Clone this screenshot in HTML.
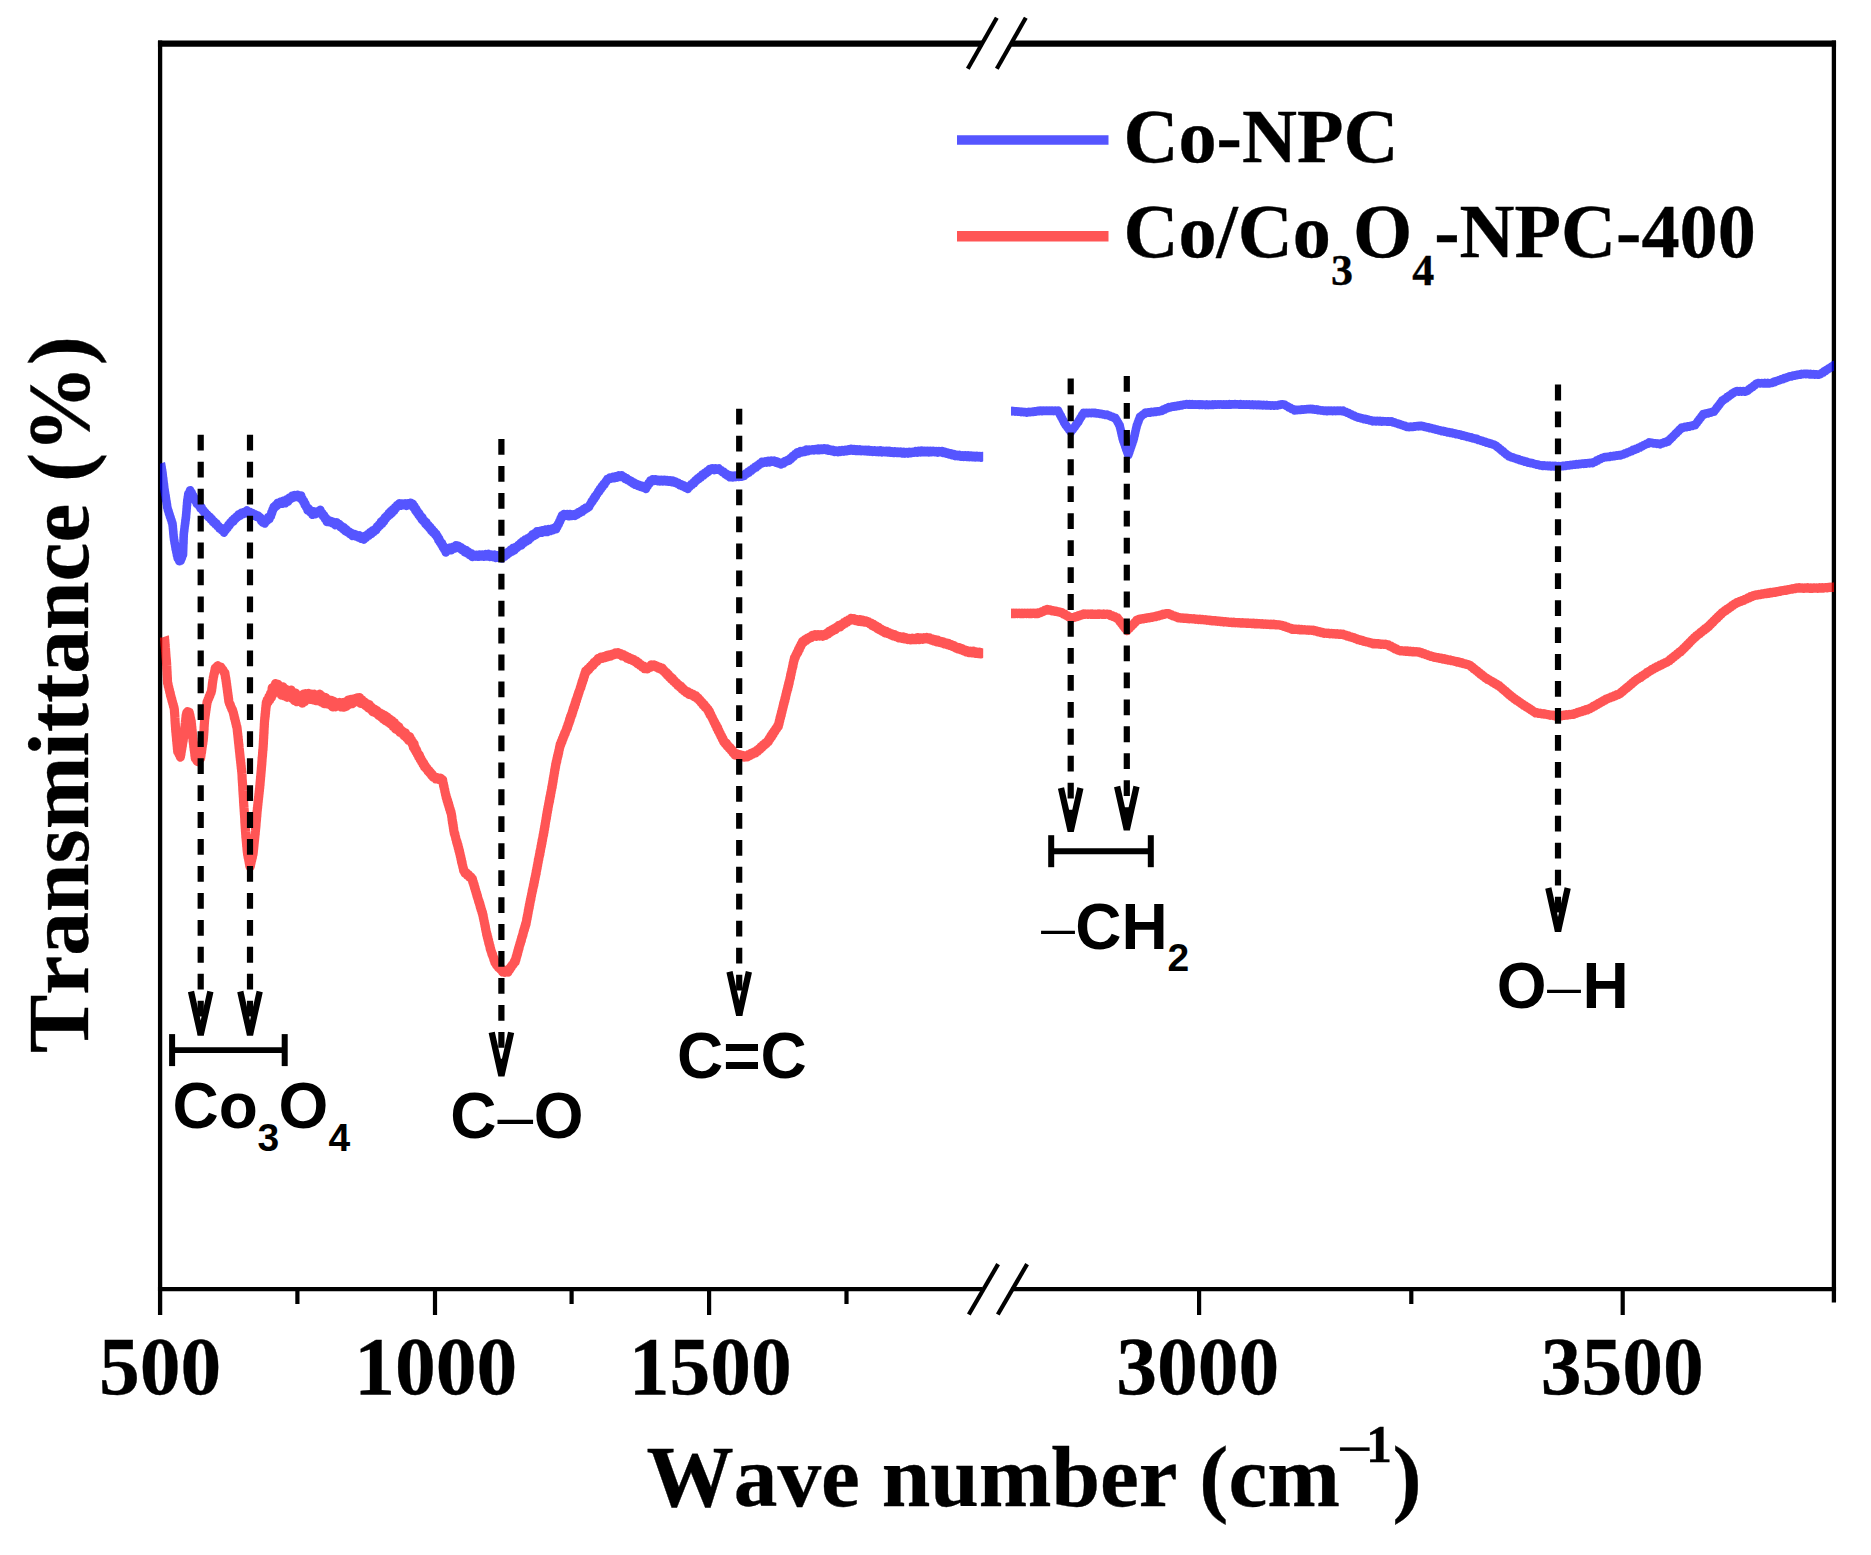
<!DOCTYPE html>
<html lang="en"><head><meta charset="utf-8"><title>FTIR spectra</title>
<style>
html,body{margin:0;padding:0;background:#fff;}
svg{display:block;}
.ser{font-family:"Liberation Serif","Times New Roman",serif;font-weight:bold;fill:#000;stroke:#000;stroke-width:0.35px;}
.san{font-family:"Liberation Sans",Arial,sans-serif;font-weight:bold;fill:#000;}
.thin{font-family:"Liberation Serif",serif;font-weight:normal;}
.nk{font-kerning:none;}
.thinsans{font-family:"Liberation Sans",Arial,sans-serif;font-weight:normal;}
</style></head><body>
<svg width="1871" height="1555" viewBox="0 0 1871 1555">
<rect x="0" y="0" width="1871" height="1555" fill="#fff"/>
<g stroke="#000" fill="none" stroke-linecap="butt">
<line x1="157.95" y1="43.6" x2="982.3" y2="43.6" stroke-width="6.2"/>
<line x1="1011.3" y1="43.6" x2="1836.0500000000002" y2="43.6" stroke-width="6.2"/>
<line x1="157.95" y1="1289.15" x2="982.3" y2="1289.15" stroke-width="4.4"/>
<line x1="1011.3" y1="1289.15" x2="1836.0500000000002" y2="1289.15" stroke-width="4.4"/>
<line x1="160.1" y1="40.5" x2="160.1" y2="1315" stroke-width="4.3"/>
<line x1="1833.9" y1="40.5" x2="1833.9" y2="1302.5" stroke-width="4.3"/>
<line x1="435.0" y1="1289.15" x2="435.0" y2="1315" stroke-width="4.2"/>
<line x1="709.1" y1="1289.15" x2="709.1" y2="1315" stroke-width="4.2"/>
<line x1="1199.1" y1="1289.15" x2="1199.1" y2="1315" stroke-width="4.2"/>
<line x1="1622.7" y1="1289.15" x2="1622.7" y2="1315" stroke-width="4.2"/>
<line x1="297.4" y1="1289.15" x2="297.4" y2="1304" stroke-width="4.2"/>
<line x1="571.6" y1="1289.15" x2="571.6" y2="1304" stroke-width="4.2"/>
<line x1="846.5" y1="1289.15" x2="846.5" y2="1304" stroke-width="4.2"/>
<line x1="1411.3" y1="1289.15" x2="1411.3" y2="1304" stroke-width="4.2"/>
<line x1="967.8" y1="68.8" x2="996.8" y2="17.8" stroke-width="4.2"/>
<line x1="996.8" y1="68.8" x2="1025.8" y2="17.8" stroke-width="4.2"/>
<line x1="968.8" y1="1314.45" x2="998.0999999999999" y2="1264.15" stroke-width="4.2"/>
<line x1="997.8" y1="1314.45" x2="1027.1" y2="1264.15" stroke-width="4.2"/>
</g>
<defs><clipPath id="cl"><rect x="160" y="43" width="823.2" height="1246"/></clipPath><clipPath id="cr"><rect x="1011" y="43" width="823" height="1246"/></clipPath></defs>
<g clip-path="url(#cl)">
<polyline points="160.9,463.4 161.1,464.0 161.4,466.3 161.6,466.9 161.8,469.3 162.1,469.9 162.3,472.0 162.5,472.5 162.7,474.9 162.8,475.5 163.0,477.9 163.2,478.2 163.4,480.7 163.5,481.0 163.7,483.4 163.9,483.9 164.1,486.2 164.2,486.5 164.4,489.0 164.6,489.4 164.9,492.0 165.1,492.6 165.3,495.0 165.6,495.4 165.8,497.8 166.0,498.5 166.3,501.0 166.5,501.3 166.8,504.1 167.0,504.5 167.2,507.4 167.5,507.8 168.0,510.5 168.5,510.9 169.0,513.6 169.5,513.9 170.0,516.8 170.5,517.2 171.0,519.5 171.5,520.2 172.0,522.9 172.5,523.1 172.6,525.6 172.8,526.0 172.9,528.4 173.0,528.8 173.2,531.2 173.3,531.5 173.4,534.2 173.5,534.2 173.7,537.0 173.8,537.0 174.1,540.1 174.3,540.1 174.6,543.1 174.9,543.6 175.2,546.3 175.4,546.3 175.7,549.5 176.0,549.6 176.4,552.5 176.7,552.9 177.0,555.7 177.4,555.8 177.7,558.5 178.5,558.7 179.3,561.2 180.1,560.6 180.7,560.6 181.3,557.9 181.8,557.9 182.4,555.4 183.0,555.1 183.1,552.2 183.1,552.4 183.2,549.6 183.2,549.3 183.3,546.6 183.3,546.3 183.4,543.4 183.5,543.4 183.5,540.1 183.6,540.3 183.6,537.1 183.7,537.2 183.7,534.6 183.8,534.3 184.0,531.8 184.2,531.4 184.4,528.8 184.5,528.8 184.7,526.1 184.9,525.7 185.1,523.0 185.3,523.1 185.4,520.1 185.6,520.6 185.8,517.6 186.0,517.6 186.1,514.7 186.2,514.7 186.4,511.6 186.5,511.6 186.6,508.6 186.7,508.8 186.8,505.6 187.0,505.5 187.1,502.5 187.2,502.4 187.4,499.6 187.6,499.7 187.9,496.4 188.1,496.3 188.3,493.5 189.2,493.2 190.1,490.2 190.9,492.8 191.7,492.8 192.5,495.9 193.2,495.8 193.9,498.5 194.7,498.1 195.4,501.1 196.1,500.8 196.8,503.8 197.7,502.9 198.7,505.6 199.6,505.7 200.5,508.4 201.5,507.3 202.4,510.4 203.3,510.0 204.3,512.9 205.2,512.3 206.3,515.0 207.4,514.6 208.6,517.3 209.7,516.6 210.8,519.5 211.9,519.0 213.0,522.0 214.1,521.4 215.2,524.1 216.3,523.2 217.4,526.2 218.5,525.8 219.6,528.7 220.7,527.7 221.8,530.2 222.9,529.6 224.0,532.6 224.9,529.6 225.8,530.0 226.7,527.1 227.6,528.0 228.5,524.6 229.4,525.6 230.3,522.5 231.3,523.1 232.4,520.1 233.4,521.5 234.4,518.2 235.5,519.0 236.5,516.5 237.6,517.2 238.6,514.4 240.0,515.9 241.4,512.7 242.8,514.1 244.2,511.9 245.6,513.4 247.0,510.3 248.3,513.4 249.7,511.8 251.0,514.1 252.4,513.0 253.7,515.8 255.1,514.3 256.6,516.9 258.1,515.6 259.5,518.3 260.3,517.4 261.2,521.1 262.0,520.0 262.9,522.7 263.7,521.7 264.8,523.5 265.9,519.4 267.0,520.9 268.2,517.2 269.3,519.1 270.4,515.6 270.9,516.4 271.5,512.1 272.0,513.4 272.6,509.5 273.1,510.1 273.7,506.7 274.7,507.6 275.7,505.0 276.7,506.0 277.7,502.8 278.7,504.3 280.4,501.7 282.0,503.8 283.7,500.6 285.4,503.3 286.7,499.2 288.1,501.5 289.4,497.7 290.8,498.9 292.1,495.7 293.4,497.6 294.7,495.1 296.0,497.0 297.7,494.8 299.4,497.8 301.1,495.5 301.8,499.8 302.5,498.7 303.3,502.1 304.0,500.9 304.7,505.0 305.4,503.6 306.2,507.5 306.9,506.8 307.6,510.4 308.8,508.6 310.0,512.1 311.2,510.7 312.4,514.8 314.0,511.3 315.6,514.1 317.2,511.4 318.8,513.2 320.4,509.9 321.3,513.6 322.2,513.0 323.1,516.3 324.1,515.3 325.0,519.0 325.9,517.9 326.8,521.9 328.2,520.1 329.6,522.2 331.0,521.0 332.5,523.3 333.9,522.1 335.3,525.1 336.7,522.3 338.1,525.2 339.3,524.0 340.4,527.2 341.6,526.0 342.8,529.0 344.0,527.4 345.1,530.9 346.3,529.4 347.5,532.3 348.7,531.2 349.8,534.0 351.0,532.7 352.4,535.9 353.8,533.8 355.3,536.2 356.7,534.9 358.1,537.4 359.5,535.4 361.0,538.7 362.4,536.5 363.8,539.6 365.1,535.9 366.3,537.5 367.6,534.3 368.8,535.7 370.1,532.2 371.3,533.9 372.6,530.4 373.8,532.1 375.1,529.0 376.1,530.2 377.1,526.4 378.1,527.5 379.0,524.4 380.0,525.6 381.0,521.8 382.0,523.9 383.0,520.0 384.0,521.6 384.9,517.4 385.9,518.8 386.9,515.5 387.9,516.5 388.9,513.0 390.0,514.9 391.0,510.9 392.0,513.0 393.0,509.1 394.1,510.9 395.1,507.1 396.1,508.2 397.1,505.0 398.2,506.1 399.2,503.4 400.6,505.8 402.1,503.5 403.5,505.2 404.9,503.4 406.4,505.9 407.8,503.4 409.2,505.1 410.7,502.7 412.1,505.2 412.9,503.9 413.7,508.0 414.5,506.2 415.3,510.6 416.1,508.7 416.9,512.7 417.7,511.6 418.5,515.0 419.3,513.4 420.1,517.2 420.9,516.1 421.7,519.6 422.5,517.6 423.3,521.2 424.3,520.4 425.3,523.9 426.3,522.2 427.3,525.9 428.3,525.0 429.3,528.1 430.2,526.9 431.2,530.8 432.2,529.3 433.2,532.7 434.2,531.5 435.2,534.9 436.2,533.7 436.9,537.0 437.7,536.1 438.4,540.3 439.2,538.7 439.9,542.5 440.6,541.4 441.4,544.9 442.1,543.3 442.8,547.4 443.6,546.0 444.3,549.7 445.1,548.3 445.8,552.5 447.2,549.4 448.7,550.6 450.1,547.6 451.6,550.1 453.1,546.7 454.5,548.5 455.9,545.3 457.4,547.0 458.6,545.9 459.9,548.6 461.1,547.2 462.4,550.3 463.6,549.1 464.9,552.3 466.1,550.0 467.3,553.5 468.6,551.8 469.8,555.2 471.1,553.2 472.3,556.9 473.8,554.6 475.2,556.6 476.7,554.8 478.2,556.8 479.7,554.5 481.1,556.5 482.6,554.5 484.1,556.7 485.6,554.1 487.0,556.5 488.5,553.9 490.0,557.0 491.5,554.6 493.0,557.2 494.5,554.6 496.0,557.9 497.5,555.2 499.0,557.8 500.5,555.3 502.0,558.5 503.2,554.9 504.5,556.7 505.7,552.7 507.0,554.8 508.2,551.8 509.5,552.9 510.7,549.6 512.0,551.7 513.2,547.8 514.5,550.2 515.7,546.8 517.0,547.9 518.2,545.1 519.4,546.2 520.6,543.0 521.7,545.1 522.9,541.1 524.1,542.9 525.3,539.5 526.5,541.3 527.7,538.2 528.8,540.0 530.0,536.8 531.2,537.7 532.4,534.4 533.6,536.2 534.7,533.2 535.9,534.8 537.1,531.2 538.6,533.1 540.0,530.9 541.5,532.8 542.9,530.2 544.4,532.0 545.8,529.5 547.3,532.0 548.7,529.1 550.2,531.0 551.6,528.8 553.1,530.1 554.5,527.7 556.0,529.3 556.7,525.9 557.3,527.2 558.0,523.9 558.7,524.5 559.4,521.0 560.0,521.7 560.7,518.0 561.4,518.6 562.0,515.4 562.7,516.2 564.2,514.0 565.8,515.8 567.3,514.0 568.8,516.3 570.3,514.1 571.9,516.0 573.4,514.5 574.9,515.9 576.1,513.7 577.4,514.5 578.6,512.0 579.8,512.9 581.0,510.9 582.3,511.5 583.5,509.1 584.7,509.8 585.9,507.5 587.2,508.5 588.4,506.5 589.2,506.7 590.1,504.0 590.9,503.9 591.7,501.2 592.5,501.5 593.4,498.7 594.2,499.1 595.0,496.3 595.9,496.4 596.7,494.0 597.5,493.7 598.3,491.2 599.2,491.6 600.0,488.8 600.9,489.1 601.8,486.4 602.7,486.5 603.6,484.0 604.5,484.4 605.4,481.8 606.3,481.7 607.2,479.2 608.1,479.5 609.6,477.7 611.1,478.6 612.6,477.0 614.1,478.1 615.6,476.2 617.1,477.4 618.6,475.6 620.1,476.7 621.6,475.3 622.8,477.1 624.1,476.9 625.3,479.0 626.5,478.0 627.7,480.1 629.0,479.8 630.2,481.7 631.4,480.9 632.6,483.4 633.9,482.4 635.1,484.8 636.5,484.0 637.8,485.7 639.1,484.9 640.5,486.7 641.9,485.7 643.2,487.6 644.5,486.9 645.9,488.9 646.8,486.2 647.7,486.2 648.6,483.0 649.5,483.6 650.4,480.6 651.3,480.7 652.7,479.2 654.2,480.9 655.6,479.2 657.1,481.1 658.5,479.8 659.9,481.4 661.4,479.8 662.8,481.4 664.3,479.9 665.7,481.3 667.1,480.1 668.6,481.8 670.0,480.4 671.5,481.9 672.9,480.6 674.3,482.5 675.6,481.8 677.0,483.6 678.3,483.0 679.7,485.2 681.0,484.3 682.4,486.3 683.7,485.2 685.1,487.7 686.4,486.9 687.8,488.9 688.9,486.2 690.0,486.5 691.1,484.4 692.2,484.7 693.3,482.6 694.4,482.9 695.5,480.2 696.6,480.8 697.7,478.2 698.8,479.0 699.9,476.7 701.1,477.2 702.3,474.6 703.5,475.5 704.7,472.8 706.0,473.6 707.2,471.2 708.4,471.8 709.6,469.0 710.8,470.0 712.4,468.4 714.0,470.0 715.7,468.4 717.3,469.6 718.9,468.6 720.1,470.4 721.3,470.2 722.5,472.2 723.7,471.8 724.9,474.2 726.1,473.4 727.3,475.7 728.5,475.0 729.7,477.3 731.2,475.9 732.7,477.4 734.2,475.8 735.7,476.9 737.2,475.3 738.7,477.0 740.2,475.4 741.7,476.6 743.2,475.2 744.4,475.8 745.6,473.6 746.7,473.8 747.9,472.0 749.1,472.6 750.3,470.3 751.5,470.7 752.7,468.6 753.8,468.9 755.0,466.9 756.2,467.3 757.4,465.2 758.6,465.4 759.7,463.6 760.9,463.8 762.1,461.7 763.6,462.7 765.2,461.5 766.7,462.5 768.3,460.9 769.8,462.2 771.4,460.7 772.9,461.7 774.2,460.8 775.6,462.4 777.0,461.4 778.3,463.4 779.6,462.7 781.0,464.4 782.4,462.5 783.7,463.2 785.0,461.1 786.4,461.6 787.8,459.9 789.1,460.6 790.3,458.1 791.4,458.6 792.6,456.1 793.7,456.8 794.9,454.2 796.0,454.5 797.2,452.3 798.7,453.4 800.3,451.3 801.8,452.4 803.4,450.9 804.9,451.8 806.5,449.6 808.0,451.0 809.5,449.6 810.9,450.4 812.4,449.3 813.9,450.3 815.4,449.1 816.8,450.0 818.3,448.6 819.8,450.2 821.3,448.6 822.7,450.0 824.2,448.2 825.7,450.1 827.2,448.5 828.7,450.8 830.2,449.6 831.7,451.0 833.2,449.9 834.7,452.0 836.2,450.8 837.7,452.2 839.2,450.5 840.7,451.7 842.2,450.3 843.7,451.4 845.2,449.7 846.7,451.3 848.2,449.6 849.7,450.8 851.2,448.8 852.7,450.7 854.1,449.1 855.6,450.9 857.0,449.4 858.5,450.8 859.9,449.6 861.4,451.2 862.8,449.7 864.3,451.1 865.7,450.0 867.2,451.5 868.6,449.9 870.1,451.6 871.6,450.2 873.0,451.7 874.5,450.5 876.0,451.9 877.5,450.7 878.9,451.9 880.4,450.4 881.9,452.2 883.4,451.0 884.8,452.1 886.3,450.7 887.7,452.5 889.2,450.8 890.6,452.8 892.1,451.2 893.5,453.0 894.9,451.3 896.4,452.8 897.8,451.6 899.3,452.9 900.7,451.8 902.1,453.5 903.6,452.1 905.0,453.5 906.5,452.3 907.9,453.4 909.4,451.9 911.0,453.1 912.5,451.9 914.1,452.7 915.6,451.2 917.2,452.6 918.7,451.1 920.1,452.2 921.6,450.6 923.0,452.2 924.5,450.8 925.9,452.3 927.4,450.7 928.8,452.4 930.3,450.7 931.7,452.3 933.2,451.0 934.6,452.1 936.1,451.1 937.5,452.5 939.0,451.1 940.4,452.1 941.9,451.0 943.3,452.9 944.8,451.7 946.3,453.6 947.8,452.7 949.2,454.4 950.7,453.2 952.2,455.3 953.7,454.1 955.1,456.1 956.6,454.7 958.0,456.3 959.5,455.0 960.9,456.5 962.4,455.4 963.8,456.9 965.3,455.3 966.7,457.0 968.1,455.6 969.6,457.0 971.0,455.6 972.5,457.3 973.9,456.0 975.3,457.2 976.8,455.9 978.2,457.2 979.7,456.0 981.1,457.7 982.6,456.2 984.0,457.0" fill="none" stroke="#0000ff" opacity="0.667" stroke-width="8.6" stroke-linejoin="round" stroke-linecap="butt"/>
<polyline points="164.3,636.7 164.5,637.3 164.6,639.6 164.8,640.1 164.9,642.4 165.0,643.0 165.1,645.1 165.2,646.0 165.4,648.2 165.5,648.8 165.6,651.1 165.7,651.8 165.8,653.9 165.9,654.7 166.0,656.8 166.1,657.5 166.3,659.5 166.4,660.4 166.5,662.5 166.6,663.1 166.7,665.5 166.8,666.3 166.8,668.5 166.9,669.3 167.0,671.4 167.1,672.2 167.1,674.2 167.2,675.0 167.3,677.2 167.4,678.2 167.4,680.4 167.5,681.0 167.6,683.2 168.0,683.9 168.3,686.3 168.7,687.0 169.1,689.2 169.4,689.9 169.8,692.3 170.2,692.9 170.5,695.4 170.9,696.1 171.3,698.1 171.7,698.9 172.0,700.8 172.4,701.7 172.8,703.7 173.2,704.3 173.5,706.3 173.9,707.1 174.3,709.2 174.4,710.0 174.5,712.2 174.6,712.8 174.7,714.9 174.8,715.6 174.9,717.8 175.0,718.6 175.0,720.7 175.1,721.4 175.2,723.5 175.3,724.0 175.4,726.1 175.5,726.8 175.6,729.0 175.7,729.7 175.8,731.7 176.0,732.7 176.1,734.6 176.2,735.3 176.4,737.4 176.5,738.1 176.6,740.5 176.8,740.9 176.9,743.1 177.0,743.9 177.2,746.0 177.3,746.6 177.4,748.7 177.6,749.5 177.7,751.7 178.4,752.2 179.1,754.3 179.7,754.9 180.4,757.1 180.6,755.1 180.9,754.4 181.1,752.1 181.3,751.5 181.6,749.4 181.8,748.8 182.0,746.7 182.3,746.0 182.5,744.0 182.7,743.1 183.0,741.2 183.2,740.5 183.4,738.2 183.7,737.6 183.9,735.7 184.1,735.0 184.2,732.7 184.4,732.0 184.5,729.9 184.7,729.2 184.9,726.9 185.0,726.3 185.2,724.1 185.3,723.3 185.5,721.2 185.7,720.4 185.8,718.4 186.0,717.8 186.1,715.7 186.3,714.9 186.9,712.4 187.6,711.7 189.2,712.1 189.5,714.2 189.9,715.1 190.2,717.2 190.5,718.0 190.9,720.2 191.2,721.1 191.3,723.4 191.5,723.9 191.6,726.3 191.8,727.0 191.9,729.2 192.1,729.9 192.2,732.1 192.4,733.0 192.5,735.1 192.7,736.0 192.8,738.1 193.0,738.7 193.1,741.2 193.3,741.7 193.5,743.9 193.7,744.7 193.8,746.7 194.0,747.6 194.2,749.8 194.4,750.3 194.6,752.6 194.8,753.2 194.9,755.6 195.1,756.1 195.3,758.4 196.1,758.9 197.0,761.0 197.8,761.6 198.7,761.0 199.7,759.0 200.6,758.4 200.8,756.1 201.0,755.4 201.2,753.1 201.5,752.5 201.7,750.2 201.9,749.4 202.1,747.3 202.3,746.5 202.5,744.3 202.8,743.6 203.0,741.3 203.2,740.7 203.4,738.4 203.5,737.7 203.6,735.6 203.7,735.0 203.8,732.7 203.9,732.0 204.0,729.9 204.1,729.4 204.1,727.1 204.2,726.6 204.3,724.2 204.4,723.6 204.5,721.5 204.6,720.7 204.7,718.5 204.9,718.1 205.1,715.8 205.3,715.2 205.5,713.0 205.7,712.4 205.9,710.3 206.1,709.6 206.3,707.4 206.5,706.8 206.7,704.7 206.9,704.0 207.1,701.8 207.6,701.3 208.2,699.1 208.7,698.4 209.2,696.6 209.8,695.9 210.3,693.8 210.9,693.1 211.4,691.1 211.6,690.5 211.8,688.5 212.0,687.7 212.2,685.7 212.3,684.8 212.5,682.9 212.7,682.1 212.9,680.1 213.1,679.3 213.4,677.3 213.7,676.3 214.0,674.1 214.4,673.3 214.7,671.0 215.0,670.2 215.3,667.9 216.5,667.4 217.7,665.7 219.3,667.1 221.0,667.2 222.0,669.2 222.9,669.9 223.9,672.1 224.9,673.0 225.1,675.0 225.3,675.7 225.5,677.7 225.8,678.4 226.0,680.5 226.2,681.0 226.4,683.4 226.6,684.0 226.8,686.3 227.0,686.9 227.2,689.1 227.4,690.0 227.6,692.2 227.8,692.9 228.0,695.2 228.2,695.7 228.4,698.1 228.6,698.8 228.8,701.1 229.0,701.9 229.6,703.7 230.2,704.5 230.8,706.7 231.3,707.4 231.9,709.4 232.5,709.9 233.1,712.1 233.4,712.8 233.8,714.8 234.1,715.6 234.4,717.8 234.8,718.3 235.1,720.5 235.4,720.9 235.8,723.1 236.1,723.8 236.4,726.0 236.8,726.5 237.1,728.5 237.2,729.3 237.4,731.5 237.5,732.1 237.7,734.2 237.8,734.9 238.0,736.9 238.1,737.7 238.3,739.9 238.4,740.6 238.6,742.8 238.7,743.3 238.9,745.4 239.0,746.2 239.2,748.3 239.3,748.9 239.5,751.3 239.6,751.9 239.8,753.9 239.9,754.8 240.1,757.0 240.2,757.6 240.4,759.7 240.6,760.3 240.7,762.5 240.9,763.1 241.0,765.4 241.2,766.1 241.3,768.2 241.5,768.9 241.6,771.0 241.8,771.7 241.9,773.7 242.0,774.5 242.1,776.6 242.1,777.4 242.2,779.6 242.3,780.2 242.4,782.2 242.5,783.1 242.6,785.2 242.7,785.8 242.8,788.2 242.8,788.8 242.9,790.8 243.0,791.6 243.1,793.8 243.2,794.5 243.3,796.7 243.4,797.3 243.5,799.5 243.5,800.1 243.6,802.4 243.7,803.1 243.8,805.4 243.9,806.1 244.0,808.1 244.1,808.8 244.2,811.0 244.3,811.7 244.4,814.0 244.5,814.7 244.6,816.8 244.7,817.5 244.8,819.9 244.8,820.6 244.9,822.7 245.0,823.4 245.1,825.6 245.2,826.4 245.3,828.4 245.4,829.2 245.5,831.5 245.6,832.3 245.7,834.2 245.8,834.9 245.9,837.3 246.1,837.9 246.2,840.0 246.3,840.8 246.5,843.2 246.6,843.7 246.7,846.1 246.9,846.9 247.0,849.1 247.1,849.8 247.3,851.9 247.4,852.5 247.7,854.8 247.9,855.5 248.2,857.5 248.5,858.1 248.8,860.3 249.0,861.0 249.3,863.1 249.6,863.9 249.8,866.0 250.1,866.8 250.4,865.9 250.7,863.9 251.0,863.0 251.3,861.2 251.6,860.4 252.0,858.2 252.3,857.7 252.6,855.5 252.9,854.7 253.2,852.7 253.3,851.9 253.5,849.7 253.6,849.1 253.8,846.8 253.9,845.9 254.1,843.7 254.2,842.9 254.4,840.8 254.5,840.1 254.7,837.8 254.8,837.2 255.0,834.9 255.2,834.1 255.3,832.0 255.4,831.2 255.6,829.0 255.7,828.3 255.9,826.2 256.0,825.2 256.1,823.1 256.2,822.4 256.4,820.2 256.5,819.4 256.6,817.1 256.8,816.2 256.9,814.1 257.0,813.2 257.1,811.2 257.3,810.4 257.4,808.2 257.6,807.6 257.7,805.4 257.9,804.6 258.0,802.5 258.2,801.8 258.3,799.7 258.5,799.0 258.6,797.1 258.8,796.4 258.9,794.2 259.1,793.5 259.2,791.5 259.4,790.9 259.5,788.6 259.7,788.1 259.8,785.8 260.0,785.0 260.1,782.8 260.2,781.9 260.4,779.8 260.5,779.0 260.6,776.8 260.8,775.9 260.9,773.8 261.0,773.1 261.2,770.7 261.3,770.0 261.4,767.8 261.5,767.1 261.7,764.8 261.8,764.1 261.9,761.8 262.0,761.2 262.1,758.9 262.2,758.1 262.4,756.0 262.5,755.3 262.6,753.0 262.7,752.7 262.8,749.7 263.0,749.8 263.1,747.0 263.2,746.8 263.3,743.5 263.4,744.1 263.4,740.9 263.5,741.3 263.6,738.2 263.7,738.2 263.7,735.3 263.8,735.6 263.9,732.2 264.0,733.3 264.0,729.6 264.1,730.0 264.2,726.6 264.3,727.1 264.3,723.7 264.4,724.4 264.5,720.6 264.6,721.4 264.8,717.1 264.9,718.9 265.1,714.0 265.2,716.5 265.4,711.3 265.5,713.5 265.7,707.9 265.8,710.2 266.0,705.3 266.1,707.6 266.3,702.3 266.4,705.5 267.2,699.9 268.1,702.3 268.9,696.8 269.8,700.0 270.6,693.3 271.4,697.3 272.2,687.8 273.0,694.1 273.9,686.5 274.7,691.4 275.5,683.6 276.7,691.5 277.9,684.3 279.0,691.9 280.2,687.5 281.4,695.1 282.8,686.9 284.2,695.8 285.6,689.0 287.1,697.3 288.5,690.8 289.9,695.6 291.0,690.0 292.1,698.3 293.3,693.7 294.4,700.5 295.5,693.0 296.9,701.7 298.3,695.5 299.7,701.4 301.1,697.1 302.3,703.1 303.5,694.2 304.6,701.5 305.8,693.7 307.0,697.9 308.5,693.3 310.0,699.3 311.5,694.2 313.0,699.8 314.4,694.1 315.8,700.7 317.1,695.8 318.5,700.8 319.9,694.2 321.3,702.1 322.7,696.5 324.2,703.7 325.6,697.5 327.0,703.8 328.4,699.5 329.9,704.6 331.3,700.4 332.7,707.0 334.1,701.4 335.5,706.8 336.9,702.6 338.2,705.8 339.6,702.4 341.0,707.0 342.4,702.7 343.8,707.2 345.2,702.1 346.7,706.2 348.1,700.2 349.6,704.1 351.0,699.4 352.5,703.7 354.0,698.9 355.4,701.7 356.9,697.9 358.4,700.8 359.6,697.5 360.8,703.5 362.0,699.9 363.3,704.0 364.5,701.9 365.7,705.8 366.9,703.5 368.1,707.8 369.3,704.5 370.6,709.4 371.8,707.2 373.0,711.9 374.4,709.1 375.7,713.0 377.1,710.6 378.4,715.2 379.8,712.8 381.0,717.1 382.2,714.1 383.4,719.2 384.7,715.3 385.9,721.0 387.1,716.8 388.3,722.4 389.5,718.8 390.8,724.1 392.0,720.7 393.3,726.7 394.5,722.7 395.6,728.9 396.7,725.1 397.8,730.1 398.9,726.9 400.0,732.3 401.1,729.9 402.2,733.7 403.3,731.7 404.3,735.9 405.4,732.8 406.5,737.8 407.6,735.6 408.6,740.4 409.7,736.7 410.8,741.1 411.5,739.8 412.1,743.9 412.8,742.0 413.4,747.5 414.1,743.9 414.7,749.6 415.4,747.6 416.0,751.9 416.7,750.1 417.3,754.2 418.0,753.3 418.7,757.0 419.4,755.0 420.2,759.5 420.9,758.4 421.6,761.7 422.3,760.9 423.0,764.2 423.8,763.3 424.5,766.8 425.2,765.7 426.1,768.4 427.0,768.3 427.9,771.1 428.8,770.3 429.7,773.0 430.6,772.5 431.5,775.3 432.4,774.4 433.3,777.3 434.2,776.5 435.8,778.8 437.4,777.8 439.1,779.7 440.7,778.3 442.3,779.9 442.6,779.8 443.0,782.9 443.3,783.0 443.6,786.1 443.9,785.7 444.3,789.0 444.6,789.1 444.9,791.8 445.2,792.0 445.6,795.0 445.9,794.9 446.3,797.9 446.7,797.7 447.1,800.5 447.6,800.5 448.0,803.6 448.4,802.9 448.8,806.3 449.2,805.8 449.6,808.8 450.1,808.9 450.5,811.8 450.9,811.4 451.3,814.1 451.5,814.4 451.7,816.9 451.9,816.8 452.1,820.2 452.3,819.9 452.5,822.9 452.8,822.6 453.0,825.6 453.2,825.0 453.4,828.3 453.6,827.9 453.8,830.9 454.0,831.1 454.4,833.8 454.8,833.6 455.2,836.4 455.5,836.5 455.9,839.4 456.3,839.6 456.7,842.2 457.1,842.2 457.5,845.1 457.9,844.8 458.2,847.9 458.6,847.5 459.0,851.0 459.4,850.3 459.7,853.7 460.0,853.3 460.4,856.5 460.7,856.1 461.0,859.2 461.3,859.0 461.6,862.2 462.0,861.9 462.3,864.8 462.6,865.0 462.9,867.5 463.3,867.7 463.6,870.6 463.9,870.2 465.1,873.2 466.2,872.6 467.4,875.3 468.5,874.7 469.7,877.3 470.8,876.8 472.0,879.4 472.4,878.9 472.8,882.2 473.2,881.5 473.7,884.8 474.1,884.3 474.5,887.6 474.9,887.2 475.3,890.1 475.7,890.1 476.2,893.3 476.6,893.0 477.0,896.1 477.4,895.6 477.8,898.5 478.2,898.7 478.6,901.3 479.1,901.3 479.5,904.2 479.9,903.7 480.3,907.1 480.7,906.6 481.1,909.6 481.6,909.7 482.0,912.5 482.4,912.2 482.8,915.3 483.1,915.1 483.4,918.2 483.6,918.0 483.9,920.6 484.2,920.7 484.5,923.6 484.7,923.1 485.0,926.1 485.3,926.1 485.6,929.3 485.8,929.1 486.1,931.6 486.4,931.7 486.7,934.9 487.1,934.2 487.4,937.6 487.8,937.3 488.1,940.2 488.5,940.0 488.8,943.2 489.2,942.9 489.5,945.6 489.9,945.5 490.2,948.8 490.6,948.5 490.9,951.0 491.4,951.3 491.9,954.1 492.4,953.8 492.9,956.7 493.4,956.9 493.9,959.8 494.4,959.4 494.9,962.6 495.4,962.2 496.4,964.8 497.4,964.6 498.4,967.5 499.4,966.5 500.5,969.4 501.5,968.8 502.5,971.9 503.5,971.0 505.0,972.4 506.5,970.6 508.0,972.2 508.9,969.2 509.8,969.3 510.7,966.9 511.6,966.8 512.5,964.5 513.4,964.4 514.3,961.7 515.2,961.9 515.6,959.0 516.0,959.5 516.3,956.3 516.7,956.9 517.1,953.6 517.5,954.3 517.8,950.8 518.2,951.4 518.6,948.1 519.0,948.4 519.3,945.9 519.7,945.6 520.1,943.1 520.5,943.1 520.9,940.3 521.3,940.6 521.7,937.4 522.1,937.5 522.5,934.9 522.9,935.1 523.2,932.2 523.6,932.2 524.0,929.4 524.4,929.6 524.8,926.6 525.2,927.0 525.6,923.8 526.0,924.6 526.3,921.6 526.5,921.7 526.8,918.4 527.1,918.6 527.3,916.0 527.6,916.0 527.9,913.1 528.1,913.4 528.4,910.0 528.6,910.4 528.9,907.6 529.2,907.7 529.4,904.6 529.7,905.1 530.0,901.9 530.2,902.1 530.5,899.3 530.8,899.6 531.1,896.3 531.4,896.2 531.7,893.5 532.0,893.4 532.3,890.5 532.6,890.5 532.9,887.8 533.2,887.6 533.5,884.8 533.8,885.3 534.1,881.9 534.4,882.0 534.7,878.8 535.0,879.0 535.3,876.3 535.5,876.6 535.8,873.8 536.1,873.9 536.3,870.8 536.6,870.6 536.9,868.1 537.1,868.2 537.4,865.3 537.6,865.4 537.9,862.7 538.2,862.5 538.4,859.4 538.7,859.9 539.0,857.0 539.2,856.9 539.5,854.3 539.8,854.7 540.0,851.3 540.3,851.7 540.6,849.0 540.8,848.9 541.1,845.8 541.4,846.1 541.6,843.1 541.9,843.7 542.1,840.3 542.4,840.7 542.7,838.0 542.9,837.6 543.2,834.8 543.5,835.1 543.7,832.0 544.0,832.6 544.2,829.1 544.5,829.4 544.7,826.2 545.0,826.8 545.2,823.4 545.4,823.5 545.7,820.6 545.9,820.8 546.2,817.6 546.4,818.3 546.6,815.1 546.9,815.1 547.1,812.2 547.4,812.2 547.6,809.3 547.9,809.5 548.1,806.7 548.4,806.5 548.7,803.7 548.9,803.7 549.2,801.0 549.5,801.4 549.7,798.0 550.0,798.2 550.2,795.7 550.5,795.9 550.8,792.4 551.0,793.0 551.3,790.2 551.6,790.0 551.8,786.9 552.1,787.7 552.3,784.6 552.6,784.3 552.8,781.5 553.1,781.5 553.3,778.4 553.5,778.7 553.8,775.6 554.0,775.7 554.3,772.8 554.5,773.3 554.7,769.8 555.0,769.9 555.2,767.3 555.5,767.3 555.7,764.3 556.0,764.3 556.3,761.4 556.7,761.6 557.0,758.3 557.3,758.6 557.6,755.7 558.0,755.8 558.3,752.9 558.6,753.2 558.9,750.3 559.2,750.2 559.6,747.1 559.9,747.1 560.2,744.2 560.8,744.6 561.3,741.6 561.9,741.9 562.4,738.7 563.0,738.8 563.5,736.1 564.1,736.0 564.6,733.4 565.2,733.4 565.7,730.8 566.3,730.6 566.8,727.8 567.4,728.1 567.9,724.8 568.3,725.2 568.8,722.3 569.2,722.7 569.6,719.4 570.1,720.2 570.5,716.7 571.0,717.1 571.4,714.5 571.9,714.8 572.3,711.8 572.8,711.8 573.2,708.7 573.7,709.1 574.1,706.2 574.6,706.6 575.0,703.5 575.5,703.7 575.9,700.5 576.4,700.7 576.8,698.1 577.2,698.2 577.7,695.3 578.1,695.4 578.6,692.6 579.0,692.6 579.5,690.1 579.9,690.0 580.4,687.4 580.8,687.7 581.3,684.6 581.7,684.6 582.1,681.6 582.6,682.1 583.0,679.2 583.5,679.5 583.9,676.2 584.4,676.5 584.8,673.5 585.3,673.7 585.7,671.0 586.7,671.7 587.8,668.9 588.8,669.6 589.9,666.9 590.9,667.1 591.9,664.9 593.0,665.4 594.0,662.6 595.0,662.9 596.1,660.8 597.1,661.3 598.2,658.4 599.2,659.2 600.7,657.3 602.1,658.3 603.6,656.5 605.0,657.6 606.5,655.4 607.9,656.8 609.4,654.9 610.8,656.2 612.3,654.2 613.7,654.9 615.2,653.1 616.6,654.1 618.1,652.7 619.4,654.6 620.7,653.5 622.0,656.0 623.3,654.6 624.6,656.7 625.9,655.9 627.3,658.4 628.6,657.4 629.9,659.5 631.2,658.5 632.5,660.4 633.8,659.8 635.1,661.9 636.3,661.0 637.5,663.7 638.7,662.8 639.9,665.1 641.1,664.8 642.3,667.0 643.5,666.1 644.7,668.7 645.9,668.5 647.3,668.9 648.6,666.9 650.0,667.4 651.3,664.9 652.7,665.9 654.0,665.0 655.4,666.7 656.7,665.9 658.1,668.2 659.4,667.1 660.8,669.3 662.1,668.0 663.1,670.6 664.2,670.4 665.2,672.9 666.3,672.3 667.3,675.2 668.3,674.4 669.4,677.2 670.4,676.6 671.4,679.3 672.5,678.4 673.5,681.1 674.6,680.9 675.6,683.2 676.7,682.7 677.8,685.4 678.8,684.7 679.9,687.2 681.0,686.4 682.1,689.3 683.2,688.6 684.2,691.1 685.3,690.4 686.4,692.6 687.8,691.8 689.1,694.4 690.5,693.2 691.8,695.2 693.1,694.3 694.5,696.8 695.9,695.8 697.2,698.3 698.2,697.9 699.2,700.4 700.1,700.0 701.1,702.4 702.1,702.4 703.1,705.0 704.1,704.4 705.1,707.3 706.0,706.8 707.0,709.2 708.0,709.0 708.7,712.0 709.4,711.3 710.0,714.7 710.7,714.2 711.4,716.9 712.1,717.0 712.8,719.7 713.5,719.9 714.2,722.6 714.8,722.4 715.5,725.0 716.2,725.0 716.9,728.2 717.6,727.4 718.2,730.6 718.9,730.6 719.6,733.5 720.2,733.3 720.9,736.1 721.6,736.1 722.3,739.0 722.9,738.5 723.6,741.4 724.3,741.3 725.3,743.9 726.3,743.1 727.2,746.1 728.2,745.8 729.2,748.3 730.2,747.5 731.2,750.4 732.2,749.9 733.1,753.0 734.1,752.3 735.1,755.1 736.6,753.7 738.2,755.5 739.7,754.7 741.3,756.7 742.8,755.3 744.4,757.2 745.9,755.7 747.2,757.0 748.6,754.7 750.0,755.4 751.3,753.2 752.6,754.1 754.0,752.0 755.4,753.0 756.7,750.5 757.8,751.0 758.9,748.9 759.9,749.5 761.0,746.7 762.1,747.3 763.2,744.7 764.3,745.4 765.3,743.3 766.4,743.5 767.5,741.2 768.3,741.6 769.2,738.5 770.0,738.9 770.8,736.1 771.7,736.3 772.5,733.7 773.3,733.9 774.1,731.3 775.0,731.3 775.8,728.6 776.6,728.9 777.5,726.1 778.3,726.5 778.7,723.5 779.0,723.8 779.4,720.7 779.7,721.0 780.1,717.5 780.5,717.8 780.8,715.0 781.2,715.3 781.5,712.2 781.9,712.1 782.3,709.1 782.6,709.5 783.0,706.4 783.3,706.4 783.7,703.1 784.1,703.6 784.4,700.7 784.8,700.8 785.1,697.7 785.5,697.9 785.9,694.6 786.2,694.8 786.6,691.6 786.9,692.0 787.3,689.0 787.7,689.2 788.0,686.0 788.4,686.3 788.7,683.1 789.1,683.5 789.4,680.5 789.7,680.4 790.1,677.7 790.4,677.8 790.7,674.4 791.0,674.9 791.3,672.0 791.6,671.9 792.0,668.9 792.3,668.8 792.6,666.2 792.9,666.4 793.2,662.9 793.5,663.1 793.9,660.1 794.2,660.5 794.5,657.5 795.2,657.7 795.9,654.9 796.5,654.8 797.2,652.3 797.9,652.3 798.5,649.3 799.2,649.7 799.9,646.6 800.6,646.8 801.2,644.0 801.9,644.3 802.6,641.3 803.8,642.1 805.0,639.6 806.2,640.5 807.4,638.1 808.6,638.8 809.8,636.9 811.0,637.8 812.2,635.5 813.4,635.8 814.9,634.8 816.5,636.3 818.0,634.7 819.6,636.1 821.1,634.5 822.7,636.3 824.2,634.5 825.4,635.4 826.7,633.3 827.9,634.1 829.1,631.4 830.3,632.5 831.6,629.9 832.8,631.0 834.0,628.5 835.2,629.7 836.5,627.1 837.7,627.7 838.9,625.4 840.2,626.8 841.4,624.4 842.6,624.8 843.8,622.8 845.1,623.3 846.3,621.3 847.5,621.9 848.7,619.9 850.0,620.3 851.2,618.3 852.7,620.0 854.1,618.7 855.6,620.6 857.1,619.5 858.6,621.4 860.0,619.5 861.5,621.7 863.0,620.4 864.5,622.0 865.9,620.8 867.4,622.5 868.6,622.0 869.9,624.0 871.1,623.0 872.4,625.6 873.6,624.4 874.9,627.0 876.1,625.9 877.4,628.6 878.6,627.3 879.9,630.0 881.1,629.0 882.4,631.4 883.6,630.3 885.0,632.8 886.3,631.4 887.6,633.6 889.0,632.7 890.4,634.6 891.7,633.8 893.1,635.9 894.4,634.6 895.8,636.7 897.1,635.8 898.6,637.9 900.1,636.5 901.6,638.1 903.1,636.9 904.6,638.8 906.1,637.8 907.6,639.4 909.1,638.5 910.6,639.9 912.1,638.4 913.5,639.6 915.0,638.4 916.5,639.7 918.0,637.6 919.4,639.6 920.9,637.8 922.4,639.4 923.9,637.7 925.3,638.7 926.8,637.5 928.2,638.9 929.5,637.9 930.9,640.1 932.2,638.8 933.6,640.9 934.9,639.5 936.3,641.8 937.7,640.2 939.0,642.3 940.4,641.3 941.7,643.0 943.1,641.9 944.4,644.0 945.8,642.8 947.1,644.6 948.5,643.4 949.8,645.5 951.2,644.6 952.5,646.6 953.9,645.5 955.2,647.8 956.6,646.9 957.9,648.9 959.3,647.7 960.6,649.7 962.0,648.5 963.4,650.9 964.7,649.8 966.0,651.9 967.4,650.9 968.9,652.5 970.4,651.3 971.9,653.0 973.4,651.2 974.9,653.3 976.5,652.1 978.0,653.6 979.5,652.2 981.0,654.0 982.5,652.8 984.0,653.6" fill="none" stroke="#ff0000" opacity="0.667" stroke-width="9.2" stroke-linejoin="round" stroke-linecap="butt"/>
</g>
<g clip-path="url(#cr)">
<polyline points="1009.0,411.0 1010.5,410.7 1012.0,411.4 1013.5,411.0 1015.0,411.6 1016.5,411.2 1018.0,411.8 1019.5,411.5 1021.0,412.1 1022.5,411.7 1024.0,412.3 1025.5,412.1 1027.0,412.6 1028.5,411.9 1030.0,412.3 1031.5,411.7 1033.0,412.0 1034.5,411.2 1036.0,411.6 1037.5,410.9 1039.0,411.2 1040.5,410.6 1042.0,411.1 1043.4,410.6 1044.9,411.0 1046.4,410.6 1047.8,411.0 1049.3,410.6 1050.8,411.0 1052.2,410.5 1053.7,411.1 1055.2,410.5 1056.6,411.1 1058.1,410.5 1058.8,412.3 1059.4,413.2 1060.1,415.0 1060.8,415.6 1061.4,417.6 1062.1,418.2 1062.8,420.0 1063.5,420.9 1064.1,422.6 1064.8,423.5 1065.7,425.2 1066.5,425.8 1067.4,427.5 1068.2,428.1 1069.1,429.8 1069.9,430.3 1070.8,432.0 1071.8,430.3 1072.7,429.6 1073.7,427.8 1074.6,427.1 1075.6,425.3 1076.5,424.4 1077.5,422.7 1078.3,422.1 1079.0,420.3 1079.8,419.4 1080.5,417.8 1081.3,417.1 1082.1,415.2 1082.8,414.4 1083.6,412.8 1085.1,413.2 1086.6,412.8 1088.1,413.3 1089.5,412.8 1091.0,413.2 1092.5,412.7 1094.0,413.1 1095.4,412.8 1096.9,413.5 1098.3,413.3 1099.7,414.0 1101.2,413.8 1102.6,414.4 1104.0,414.2 1105.5,415.0 1106.9,414.6 1108.3,415.6 1109.7,415.6 1111.2,416.7 1112.6,416.8 1114.0,417.9 1115.4,417.8 1116.1,419.5 1116.8,420.3 1117.6,422.0 1118.3,422.9 1119.0,424.7 1119.7,425.4 1120.0,427.2 1120.3,428.2 1120.7,429.9 1121.0,430.9 1121.3,432.8 1121.6,433.7 1121.9,435.6 1122.3,436.5 1122.6,438.5 1122.9,439.2 1123.4,441.2 1123.9,442.0 1124.4,443.9 1124.9,444.9 1125.4,446.9 1125.8,447.6 1126.3,449.6 1126.8,450.6 1127.3,452.5 1127.8,453.3 1128.3,455.2 1128.8,453.3 1129.3,452.5 1129.7,450.5 1130.2,449.6 1130.7,447.8 1131.2,446.7 1131.7,444.8 1132.2,443.9 1132.6,442.0 1133.1,441.1 1133.6,439.2 1133.9,438.4 1134.2,436.5 1134.6,435.5 1134.9,433.6 1135.2,432.7 1135.5,431.0 1135.8,430.0 1136.2,428.1 1136.5,427.3 1136.8,425.4 1137.3,424.5 1137.9,422.5 1138.4,421.5 1138.9,419.7 1139.5,418.7 1140.0,416.8 1141.3,416.1 1142.7,414.7 1144.1,414.1 1145.4,412.6 1146.9,412.9 1148.4,412.2 1149.9,412.7 1151.4,411.9 1152.8,412.3 1154.3,411.6 1155.8,411.9 1157.3,411.4 1158.8,411.5 1160.3,410.9 1161.7,410.9 1163.2,409.6 1164.6,409.5 1166.0,408.4 1167.5,408.3 1168.9,407.1 1170.4,407.4 1171.8,406.5 1173.3,406.8 1174.7,406.1 1176.2,406.4 1177.7,405.5 1179.1,405.9 1180.6,405.0 1182.0,405.4 1183.5,404.5 1184.9,404.8 1186.4,404.0 1187.9,404.7 1189.3,404.1 1190.8,404.7 1192.2,404.1 1193.7,404.8 1195.1,404.3 1196.6,404.8 1198.0,404.4 1199.5,404.9 1200.9,404.4 1202.4,404.9 1203.8,404.5 1205.3,405.1 1206.7,404.4 1208.1,405.1 1209.5,404.5 1211.0,405.0 1212.4,404.4 1213.8,404.9 1215.2,404.3 1216.6,404.8 1218.0,404.3 1219.4,404.7 1220.9,404.3 1222.3,404.8 1223.7,404.3 1225.1,404.8 1226.5,404.2 1227.9,404.7 1229.3,404.1 1230.8,404.6 1232.2,404.2 1233.6,404.5 1235.0,404.0 1236.4,404.5 1237.9,404.2 1239.3,404.7 1240.8,404.1 1242.2,404.7 1243.6,404.2 1245.1,404.8 1246.5,404.3 1248.0,404.8 1249.4,404.4 1250.8,405.0 1252.3,404.4 1253.7,405.1 1255.2,404.5 1256.6,405.1 1258.1,404.6 1259.5,405.1 1261.0,404.7 1262.4,405.4 1263.9,404.8 1265.3,405.5 1266.8,404.9 1268.2,405.5 1269.7,405.2 1271.1,405.7 1272.6,405.3 1274.0,405.7 1275.5,405.4 1277.1,405.6 1278.7,404.8 1280.4,405.0 1282.0,404.2 1283.6,404.6 1284.9,404.8 1286.3,405.9 1287.7,406.3 1289.0,407.6 1290.3,407.8 1291.7,409.0 1293.1,409.2 1294.4,410.4 1295.9,409.8 1297.3,410.1 1298.8,409.7 1300.3,410.0 1301.8,409.4 1303.2,409.8 1304.7,409.2 1306.2,409.4 1307.7,409.0 1309.1,409.3 1310.6,408.7 1312.1,409.4 1313.6,409.0 1315.1,409.8 1316.6,409.4 1318.1,410.2 1319.6,410.0 1321.1,410.6 1322.6,410.4 1324.1,411.0 1325.6,410.6 1327.0,411.1 1328.5,410.6 1329.9,411.0 1331.4,410.6 1332.9,411.1 1334.3,410.5 1335.8,411.1 1337.3,410.5 1338.7,411.0 1340.2,410.5 1341.6,411.1 1343.1,410.6 1344.4,411.8 1345.8,411.7 1347.1,412.8 1348.5,413.0 1349.8,414.2 1351.2,414.2 1352.5,415.4 1353.9,415.5 1355.2,416.7 1356.6,416.7 1358.1,417.7 1359.5,417.5 1361.0,418.4 1362.5,418.3 1364.0,419.1 1365.4,418.9 1366.9,419.8 1368.4,419.6 1369.9,420.5 1371.3,420.3 1372.8,421.3 1374.3,420.7 1375.7,421.4 1377.2,420.8 1378.6,421.4 1380.1,420.9 1381.5,421.6 1383.0,421.1 1384.4,421.5 1385.9,421.2 1387.3,421.7 1388.8,421.2 1390.2,421.8 1391.7,421.4 1393.0,422.4 1394.4,422.3 1395.8,423.3 1397.1,423.2 1398.5,424.1 1399.8,424.0 1401.2,424.9 1402.5,425.0 1403.9,425.9 1405.2,425.8 1406.6,426.9 1407.9,426.7 1409.4,427.2 1410.9,426.5 1412.4,427.0 1413.9,426.3 1415.4,426.6 1416.9,426.0 1418.4,426.4 1419.9,425.7 1421.4,426.2 1422.9,426.0 1424.3,426.9 1425.8,426.7 1427.2,427.5 1428.7,427.4 1430.1,428.3 1431.6,428.0 1433.0,428.9 1434.5,428.8 1435.9,429.8 1437.4,429.5 1438.8,430.4 1440.3,430.3 1441.8,431.1 1443.2,430.9 1444.7,431.7 1446.1,431.6 1447.6,432.4 1449.0,432.1 1450.5,432.9 1451.9,432.6 1453.4,433.5 1454.8,433.3 1456.3,434.2 1457.7,434.0 1459.2,434.8 1460.6,434.6 1461.9,435.6 1463.3,435.2 1464.7,436.2 1466.0,436.1 1467.4,436.9 1468.8,436.8 1470.2,437.7 1471.5,437.4 1472.9,438.4 1474.3,438.3 1475.6,439.0 1477.0,438.9 1478.4,440.0 1479.8,440.0 1481.2,440.9 1482.6,440.9 1484.0,441.7 1485.4,441.8 1486.9,442.8 1488.3,442.7 1489.7,443.6 1491.1,443.6 1492.5,444.5 1493.9,444.5 1495.3,445.5 1496.4,446.0 1497.5,447.3 1498.7,447.8 1499.8,449.2 1500.9,449.6 1502.0,451.0 1503.2,451.4 1504.3,452.8 1505.4,453.3 1506.5,454.6 1507.7,455.0 1508.8,456.5 1510.1,456.4 1511.5,457.4 1512.8,457.3 1514.2,458.3 1515.5,458.2 1516.9,459.2 1518.2,459.0 1519.6,460.1 1521.0,460.0 1522.3,460.9 1523.7,460.8 1525.0,461.8 1526.5,461.6 1527.9,462.7 1529.4,462.5 1530.9,463.3 1532.4,463.1 1533.8,464.0 1535.3,464.0 1536.8,464.8 1538.3,464.6 1539.7,465.5 1541.2,465.4 1542.7,465.9 1544.1,465.4 1545.6,465.9 1547.0,465.6 1548.5,466.2 1549.9,465.6 1551.4,466.4 1552.8,465.9 1554.3,466.4 1555.7,465.9 1557.2,466.5 1558.6,466.0 1560.1,466.6 1561.6,466.0 1563.0,466.2 1564.5,465.7 1566.0,465.9 1567.5,465.2 1568.9,465.5 1570.4,464.9 1571.9,465.1 1573.4,464.5 1574.8,464.8 1576.3,464.0 1577.8,464.5 1579.2,463.9 1580.7,464.1 1582.2,463.5 1583.7,463.9 1585.1,463.2 1586.6,463.6 1588.1,463.0 1589.6,463.4 1591.0,462.8 1592.5,463.2 1593.8,462.1 1595.2,461.8 1596.5,460.6 1597.9,460.4 1599.2,459.3 1600.6,459.1 1602.0,457.9 1603.3,457.7 1604.8,457.1 1606.2,457.3 1607.7,456.7 1609.1,457.0 1610.6,456.1 1612.0,456.5 1613.5,455.7 1614.9,456.1 1616.4,455.4 1617.8,455.7 1619.3,455.0 1620.7,455.4 1622.2,454.5 1623.5,454.4 1624.9,453.3 1626.2,453.4 1627.6,452.2 1629.0,452.3 1630.3,451.2 1631.7,451.2 1633.0,449.9 1634.4,450.0 1635.7,448.8 1637.1,448.9 1638.4,447.8 1639.8,447.6 1641.1,446.5 1642.5,446.2 1643.8,445.1 1645.2,444.8 1646.5,443.7 1647.9,443.6 1649.2,442.3 1650.7,443.0 1652.3,442.7 1653.8,443.5 1655.4,443.2 1656.9,443.9 1658.5,443.5 1660.0,444.3 1661.3,443.3 1662.7,443.4 1664.0,442.4 1665.4,442.5 1666.8,441.4 1668.1,441.6 1669.1,440.1 1670.2,439.5 1671.2,437.9 1672.3,437.4 1673.3,435.9 1674.3,435.2 1675.4,433.8 1676.4,433.2 1677.4,431.8 1678.5,431.1 1679.5,429.5 1680.6,429.1 1681.6,427.5 1683.1,427.8 1684.6,426.9 1686.1,427.2 1687.6,426.3 1689.1,426.6 1690.6,425.8 1692.1,426.0 1693.6,425.1 1695.1,425.3 1696.0,423.6 1696.9,422.9 1697.8,421.3 1698.7,420.5 1699.6,418.8 1700.5,418.2 1701.4,416.5 1702.3,415.8 1703.2,414.1 1704.7,414.2 1706.3,413.3 1707.8,413.4 1709.4,412.5 1710.9,412.7 1712.5,411.7 1714.0,411.8 1714.9,410.1 1715.8,409.4 1716.7,407.8 1717.6,407.0 1718.6,405.4 1719.5,404.6 1720.4,402.9 1721.3,402.2 1722.2,400.5 1723.4,400.2 1724.7,398.9 1725.9,398.6 1727.1,397.0 1728.3,396.7 1729.6,395.3 1730.8,395.0 1732.0,393.6 1733.2,393.4 1734.5,392.0 1735.7,391.6 1737.2,391.0 1738.8,391.6 1740.3,391.1 1741.9,391.6 1743.4,391.0 1745.0,391.6 1746.5,391.1 1747.7,390.7 1748.9,389.3 1750.1,388.8 1751.3,387.5 1752.5,387.1 1753.7,385.7 1754.9,385.2 1756.1,383.8 1757.3,383.4 1758.8,383.0 1760.3,383.5 1761.8,383.0 1763.3,383.5 1764.8,382.9 1766.3,383.5 1767.8,382.9 1769.3,383.5 1770.8,383.0 1772.1,382.9 1773.5,381.9 1774.8,382.1 1776.2,381.0 1777.5,381.0 1778.9,380.1 1780.2,380.1 1781.6,379.1 1783.0,379.2 1784.3,378.1 1785.7,378.2 1787.0,377.3 1788.4,377.2 1789.7,376.2 1791.2,376.5 1792.7,375.6 1794.2,375.8 1795.7,375.1 1797.2,375.2 1798.7,374.5 1800.2,374.7 1801.7,373.9 1803.2,374.1 1804.7,373.7 1806.1,374.1 1807.6,373.7 1809.1,374.4 1810.6,373.9 1812.0,374.5 1813.5,374.1 1815.0,374.6 1816.5,374.2 1817.9,374.8 1819.4,374.3 1820.6,374.0 1821.8,372.9 1823.0,372.6 1824.1,371.3 1825.3,371.1 1826.5,369.9 1827.7,369.5 1828.9,368.3 1830.1,368.1 1831.3,366.8 1832.4,366.6 1833.6,365.2 1834.8,365.0 1836.0,364.0" fill="none" stroke="#0000ff" opacity="0.667" stroke-width="8.6" stroke-linejoin="round" stroke-linecap="butt"/>
<polyline points="1009.0,613.6 1010.4,613.1 1011.9,613.7 1013.3,613.1 1014.8,613.6 1016.2,613.2 1017.6,613.6 1019.1,613.2 1020.5,613.7 1022.0,613.2 1023.4,613.7 1024.8,613.2 1026.3,613.6 1027.7,613.2 1029.2,613.7 1030.6,613.1 1032.0,613.6 1033.5,613.2 1034.9,613.6 1036.4,613.1 1037.8,613.7 1039.2,612.5 1040.5,612.6 1041.9,611.5 1043.2,611.6 1044.6,610.4 1045.9,610.3 1047.3,609.3 1048.8,610.2 1050.3,609.9 1051.8,610.8 1053.3,610.6 1054.8,611.3 1056.3,611.2 1057.8,611.9 1059.3,611.8 1060.8,612.6 1062.1,612.7 1063.5,614.1 1064.8,614.2 1066.2,615.5 1067.5,615.7 1068.9,616.9 1070.2,617.2 1071.6,618.4 1072.9,617.6 1074.3,617.5 1075.6,616.6 1077.0,616.6 1078.3,615.7 1079.7,615.8 1081.0,614.9 1082.4,614.8 1083.7,613.9 1085.1,614.4 1086.6,614.0 1088.0,614.4 1089.4,614.0 1090.8,614.4 1092.3,613.9 1093.7,614.5 1095.1,614.0 1096.6,614.5 1098.0,613.9 1099.4,614.4 1100.9,614.0 1102.3,614.5 1103.7,613.9 1105.1,614.5 1106.6,614.0 1108.0,614.4 1109.4,614.4 1110.7,615.7 1112.1,615.6 1113.4,616.7 1114.8,616.7 1116.1,617.9 1117.5,617.9 1118.4,619.5 1119.2,620.1 1120.1,621.8 1121.0,622.3 1121.8,623.9 1122.7,624.6 1123.5,626.2 1124.4,626.8 1125.3,628.4 1126.1,629.0 1127.0,630.6 1128.1,629.1 1129.2,628.4 1130.2,626.9 1131.3,626.3 1132.4,624.8 1133.5,624.1 1134.6,622.6 1135.6,622.0 1136.7,620.4 1137.8,619.8 1139.3,619.1 1140.7,619.3 1142.2,618.7 1143.7,618.8 1145.2,618.0 1146.6,618.3 1148.1,617.7 1149.6,617.8 1151.1,617.1 1152.5,617.3 1154.0,616.7 1155.5,616.7 1157.0,615.8 1158.5,615.9 1160.0,615.1 1161.5,615.2 1163.0,614.2 1164.5,614.4 1166.0,613.5 1167.5,613.7 1168.8,613.7 1170.2,614.6 1171.5,614.8 1172.9,615.9 1174.2,615.8 1175.6,616.8 1177.0,616.9 1178.3,618.0 1179.7,617.6 1181.2,618.2 1182.6,617.8 1184.0,618.4 1185.4,618.0 1186.9,618.6 1188.3,618.3 1189.7,618.8 1191.2,618.5 1192.6,619.0 1194.0,618.6 1195.5,619.3 1196.9,619.0 1198.3,619.6 1199.7,619.2 1201.2,619.7 1202.6,619.3 1204.0,620.0 1205.4,619.7 1206.9,620.3 1208.3,620.0 1209.7,620.6 1211.1,620.3 1212.5,620.9 1214.0,620.5 1215.4,621.1 1216.8,620.8 1218.2,621.3 1219.7,621.1 1221.1,621.7 1222.5,621.3 1223.9,622.1 1225.3,621.5 1226.8,622.2 1228.2,621.9 1229.6,622.5 1231.0,622.1 1232.4,622.7 1233.9,622.2 1235.3,622.8 1236.7,622.5 1238.1,622.9 1239.5,622.6 1241.0,623.2 1242.4,622.7 1243.8,623.2 1245.2,622.8 1246.7,623.3 1248.1,622.9 1249.5,623.5 1250.9,623.0 1252.3,623.7 1253.8,623.1 1255.2,623.8 1256.6,623.3 1258.0,623.9 1259.5,623.5 1260.9,624.1 1262.3,623.6 1263.7,624.3 1265.2,623.9 1266.6,624.4 1268.0,624.0 1269.5,624.7 1270.9,624.2 1272.3,624.7 1273.8,624.2 1275.2,624.9 1276.6,624.6 1278.0,625.0 1279.5,624.8 1280.9,625.3 1282.2,625.3 1283.6,626.3 1285.0,626.2 1286.3,627.3 1287.7,627.2 1289.0,628.2 1290.4,628.2 1291.7,629.3 1293.1,628.8 1294.6,629.4 1296.0,629.0 1297.5,629.6 1298.9,629.2 1300.3,629.9 1301.8,629.4 1303.2,630.0 1304.7,629.5 1306.1,630.2 1307.5,629.9 1309.0,630.3 1310.4,630.0 1311.9,630.5 1313.3,630.1 1314.8,631.0 1316.4,630.9 1317.9,631.9 1319.5,631.7 1321.0,632.7 1322.6,632.4 1324.1,633.4 1325.6,633.0 1327.0,633.5 1328.5,633.1 1329.9,633.8 1331.4,633.4 1332.9,633.9 1334.3,633.6 1335.8,634.1 1337.3,633.7 1338.7,634.3 1340.2,633.9 1341.6,634.5 1343.1,634.2 1344.4,635.1 1345.8,635.1 1347.1,636.1 1348.5,635.9 1349.8,636.9 1351.2,636.8 1352.5,637.7 1353.9,637.7 1355.2,638.7 1356.6,638.7 1358.0,639.7 1359.3,639.6 1360.8,640.5 1362.3,640.4 1363.8,641.4 1365.3,641.3 1366.8,642.0 1368.3,642.0 1369.8,643.0 1371.3,642.9 1372.8,643.8 1374.2,643.3 1375.6,643.9 1377.1,643.5 1378.5,644.1 1379.9,643.8 1381.3,644.4 1382.7,644.0 1384.2,644.5 1385.6,644.2 1387.0,644.8 1388.3,644.9 1389.7,646.2 1391.0,646.2 1392.3,647.4 1393.7,647.6 1395.0,648.9 1396.3,648.9 1397.7,650.2 1399.0,650.3 1400.4,651.0 1401.9,650.5 1403.3,651.2 1404.7,650.8 1406.1,651.3 1407.6,650.9 1409.0,651.6 1410.4,651.2 1411.9,651.8 1413.3,651.3 1414.7,652.0 1416.1,651.5 1417.6,652.2 1419.0,651.8 1420.4,652.8 1421.7,652.7 1423.1,653.7 1424.4,653.6 1425.8,654.7 1427.2,654.6 1428.5,655.6 1429.9,655.5 1431.2,656.5 1432.6,656.4 1434.1,657.3 1435.5,657.1 1437.0,657.8 1438.4,657.6 1439.9,658.4 1441.3,658.1 1442.8,659.1 1444.3,658.7 1445.7,659.6 1447.2,659.4 1448.6,660.2 1450.1,659.9 1451.5,660.7 1453.0,660.6 1454.5,661.3 1455.9,661.3 1457.4,662.1 1458.8,661.9 1460.3,662.8 1461.7,662.6 1463.2,663.6 1464.6,663.5 1466.1,664.4 1467.5,664.3 1469.0,665.0 1470.2,665.5 1471.3,666.8 1472.5,667.3 1473.7,668.7 1474.8,669.2 1476.0,670.5 1477.2,671.0 1478.3,672.3 1479.5,672.9 1480.6,674.3 1481.8,674.6 1483.0,676.1 1484.1,676.5 1485.3,678.0 1486.5,678.1 1487.8,679.5 1489.0,679.7 1490.3,680.8 1491.5,681.1 1492.8,682.4 1494.0,682.6 1495.3,683.9 1496.5,684.1 1497.8,685.4 1499.0,685.6 1500.1,687.0 1501.3,687.6 1502.4,689.0 1503.5,689.5 1504.7,691.0 1505.8,691.4 1507.0,692.9 1508.1,693.4 1509.2,694.8 1510.4,695.3 1511.5,696.8 1512.7,697.1 1514.0,698.7 1515.2,699.0 1516.4,700.3 1517.6,700.7 1518.9,701.9 1520.1,702.4 1521.3,703.7 1522.5,704.1 1523.8,705.4 1525.0,705.7 1526.2,707.0 1527.4,707.2 1528.6,708.5 1529.8,708.8 1531.0,710.0 1532.2,710.4 1533.4,711.6 1534.6,711.9 1535.8,713.0 1537.2,712.7 1538.7,713.5 1540.1,713.2 1541.6,713.9 1543.0,713.7 1544.4,714.2 1545.9,714.0 1547.3,714.7 1548.8,714.5 1550.2,715.3 1551.6,715.0 1553.1,715.6 1554.5,715.3 1556.0,716.1 1557.4,715.8 1558.9,716.1 1560.3,715.4 1561.8,715.8 1563.3,715.0 1564.8,715.4 1566.2,714.7 1567.7,715.1 1569.2,714.4 1570.7,714.7 1572.1,714.0 1573.6,714.4 1574.9,713.4 1576.3,713.4 1577.6,712.4 1579.0,712.5 1580.3,711.6 1581.7,711.6 1583.0,710.7 1584.4,710.7 1585.8,709.7 1587.1,709.9 1588.5,708.9 1589.8,709.0 1591.0,707.7 1592.3,707.5 1593.5,706.2 1594.8,706.1 1596.0,704.8 1597.3,704.7 1598.5,703.4 1599.8,703.2 1601.0,702.0 1602.3,701.7 1603.5,700.5 1604.8,700.3 1606.0,699.0 1607.3,698.9 1608.7,698.0 1610.0,698.0 1611.4,696.9 1612.8,696.9 1614.1,695.9 1615.5,695.8 1616.8,694.7 1618.2,694.7 1619.5,693.7 1620.6,693.2 1621.7,691.8 1622.7,691.5 1623.8,690.0 1624.9,689.6 1626.0,688.3 1627.1,687.9 1628.1,686.5 1629.2,686.1 1630.3,684.6 1631.4,684.2 1632.5,682.8 1633.5,682.4 1634.6,681.0 1635.7,680.6 1636.9,679.2 1638.2,679.0 1639.4,677.7 1640.7,677.4 1641.9,676.0 1643.2,675.7 1644.4,674.4 1645.7,674.1 1646.9,672.6 1648.2,672.3 1649.4,671.1 1650.7,670.7 1651.9,669.3 1653.2,669.2 1654.6,668.0 1656.0,667.7 1657.3,666.5 1658.7,666.4 1660.0,665.2 1661.3,665.1 1662.7,663.8 1664.0,663.6 1665.4,662.5 1666.8,662.4 1668.1,661.2 1669.2,660.8 1670.3,659.4 1671.5,659.0 1672.6,657.5 1673.7,657.2 1674.8,655.7 1676.0,655.4 1677.1,654.0 1678.2,653.5 1679.3,652.2 1680.5,651.8 1681.6,650.4 1682.6,649.8 1683.7,648.3 1684.7,647.8 1685.8,646.3 1686.8,645.6 1687.8,644.1 1688.9,643.6 1689.9,642.0 1690.9,641.5 1692.0,639.9 1693.0,639.4 1694.1,637.9 1695.1,637.4 1696.2,636.0 1697.3,635.5 1698.5,634.2 1699.6,633.8 1700.7,632.3 1701.8,632.0 1703.0,630.5 1704.1,630.1 1705.2,628.7 1706.3,628.4 1707.5,627.0 1708.6,626.6 1709.6,625.1 1710.7,624.4 1711.7,622.9 1712.8,622.4 1713.8,620.9 1714.9,620.3 1715.9,618.8 1717.0,618.3 1718.0,616.6 1719.1,616.1 1720.1,614.6 1721.2,614.1 1722.2,612.6 1723.4,612.2 1724.7,610.8 1725.9,610.5 1727.1,609.1 1728.3,608.7 1729.6,607.4 1730.8,607.1 1732.0,605.7 1733.2,605.3 1734.5,604.0 1735.7,603.7 1737.0,602.6 1738.4,602.4 1739.8,601.3 1741.1,601.3 1742.5,600.3 1743.8,600.3 1745.2,599.2 1746.5,599.0 1747.8,597.9 1749.2,597.9 1750.5,596.7 1751.9,596.6 1753.2,595.6 1754.6,595.6 1756.0,594.8 1757.5,595.1 1758.9,594.4 1760.4,594.7 1761.8,593.8 1763.2,594.1 1764.7,593.4 1766.1,593.7 1767.6,592.9 1769.0,593.3 1770.4,592.4 1771.9,592.8 1773.3,592.0 1774.8,592.4 1776.2,591.6 1777.6,591.8 1779.1,591.1 1780.5,591.3 1782.0,590.5 1783.4,590.7 1784.8,590.0 1786.3,590.3 1787.7,589.6 1789.2,589.7 1790.6,589.0 1792.0,589.2 1793.5,588.6 1794.9,588.7 1796.4,587.9 1797.8,588.2 1799.2,587.7 1800.7,588.2 1802.1,587.8 1803.6,588.3 1805.0,587.8 1806.4,588.2 1807.9,587.7 1809.3,588.3 1810.8,587.8 1812.2,588.3 1813.6,587.8 1815.1,588.2 1816.5,587.8 1818.0,588.3 1819.4,587.7 1820.9,588.2 1822.4,587.6 1823.9,588.1 1825.4,587.5 1826.9,587.9 1828.5,587.3 1830.0,587.6 1831.5,587.0 1833.0,587.5 1834.5,586.8 1836.0,587.0" fill="none" stroke="#ff0000" opacity="0.667" stroke-width="9.2" stroke-linejoin="round" stroke-linecap="butt"/>
</g>
<g stroke="#000" fill="none">
<line x1="200.7" y1="434.8" x2="200.7" y2="1035.5" stroke-width="6.2" stroke-dasharray="15.8 11.15"/>
<polyline points="191.0,991.5 200.7,1034.9 210.4,991.5" stroke-width="6.3" stroke-linejoin="bevel"/>
<line x1="250.0" y1="434.8" x2="250.0" y2="1035.5" stroke-width="6.2" stroke-dasharray="15.8 11.15"/>
<polyline points="240.3,991.5 250.0,1034.9 259.7,991.5" stroke-width="6.3" stroke-linejoin="bevel"/>
<line x1="501.4" y1="439.0" x2="501.4" y2="1076.4" stroke-width="6.2" stroke-dasharray="15.8 11.15"/>
<polyline points="491.7,1032.4 501.4,1075.8 511.1,1032.4" stroke-width="6.3" stroke-linejoin="bevel"/>
<line x1="739.2" y1="408.7" x2="739.2" y2="1015.8" stroke-width="6.2" stroke-dasharray="15.8 11.15"/>
<polyline points="729.5,971.8 739.2,1015.2 748.9,971.8" stroke-width="6.3" stroke-linejoin="bevel"/>
<line x1="1070.7" y1="378.5" x2="1070.7" y2="832.0" stroke-width="6.2" stroke-dasharray="15.8 11.15"/>
<polyline points="1061.0,788.0 1070.7,831.4 1080.4,788.0" stroke-width="6.3" stroke-linejoin="bevel"/>
<line x1="1126.8" y1="376.0" x2="1126.8" y2="830.5" stroke-width="6.2" stroke-dasharray="15.8 11.15"/>
<polyline points="1117.1,786.5 1126.8,829.9 1136.5,786.5" stroke-width="6.3" stroke-linejoin="bevel"/>
<line x1="1558.0" y1="384.6" x2="1558.0" y2="932.0" stroke-width="6.2" stroke-dasharray="15.8 11.15"/>
<polyline points="1548.3,888.0 1558.0,931.4 1567.7,888.0" stroke-width="6.3" stroke-linejoin="bevel"/>
<line x1="172.1" y1="1050.1" x2="284.7" y2="1050.1" stroke-width="5.9"/>
<line x1="172.1" y1="1034.1" x2="172.1" y2="1066.1" stroke-width="6"/>
<line x1="284.7" y1="1034.1" x2="284.7" y2="1066.1" stroke-width="6"/>
<line x1="1051.2" y1="851.2" x2="1150.8" y2="851.2" stroke-width="5.9"/>
<line x1="1051.2" y1="835.2" x2="1051.2" y2="867.2" stroke-width="6"/>
<line x1="1150.8" y1="835.2" x2="1150.8" y2="867.2" stroke-width="6"/>
</g>
<line x1="957" y1="140" x2="1108.5" y2="140" stroke="#5555ff" stroke-width="9.4"/>
<line x1="957" y1="236.3" x2="1108.5" y2="236.3" stroke="#ff5555" stroke-width="10.4"/>
<text class="ser" x="1123.5" y="161.9" font-size="76.2">Co-NPC</text>
<text class="ser" x="1123.5" y="257.4" font-size="76.2">Co/Co<tspan font-size="44" dy="27.4">3</tspan><tspan dy="-27.4">O</tspan><tspan font-size="44" dy="27.4">4</tspan><tspan dy="-27.4">-NPC-400</tspan></text>
<text class="ser" x="160.1" y="1393.7" font-size="81.5" text-anchor="middle">500</text>
<text class="ser" x="435.8" y="1393.7" font-size="81.5" text-anchor="middle">1000</text>
<text class="ser" x="710.3" y="1393.7" font-size="81.5" text-anchor="middle">1500</text>
<text class="ser" x="1197.8" y="1393.7" font-size="81.5" text-anchor="middle">3000</text>
<text class="ser" x="1622.2" y="1393.7" font-size="81.5" text-anchor="middle">3500</text>
<text class="ser nk" x="646.5" y="1506.2" font-size="87.3">Wave number (cm<tspan font-size="63" dy="-36" x="1337" class="thin">&#8722;</tspan><tspan font-size="52" dy="-8" x="1366">1</tspan><tspan dy="44" x="1392.5">)</tspan></text>
<text class="ser nk" transform="translate(88.3,1053) rotate(-90)" font-size="87.5">Transmittance (%)</text>
<text class="san" x="172.5" y="1128.3" font-size="64">Co<tspan font-size="39" dy="22.3" x="257.6">3</tspan><tspan dy="-22.3" x="278.6">O</tspan><tspan font-size="39" dy="22.3" x="328.6">4</tspan></text>
<text class="san" x="450.2" y="1137.6" font-size="64">C<tspan class="thinsans" x="497.4">&#8211;</tspan><tspan x="533.8">O</tspan></text>
<text class="san" x="677.0" y="1078" font-size="64">C=C</text>
<text class="san" x="1041.6" y="949" font-size="64"><tspan class="thin" dy="-1.4" font-size="66">&#8211;</tspan><tspan dy="1.4" x="1075.3">CH</tspan><tspan font-size="39" dy="21.8" x="1167.5">2</tspan></text>
<text class="san" x="1496.7" y="1007.6" font-size="64">O<tspan class="thin" dy="-0.6" x="1547.5" font-size="66">&#8211;</tspan><tspan dy="0.6" x="1582.4">H</tspan></text>
</svg></body></html>
